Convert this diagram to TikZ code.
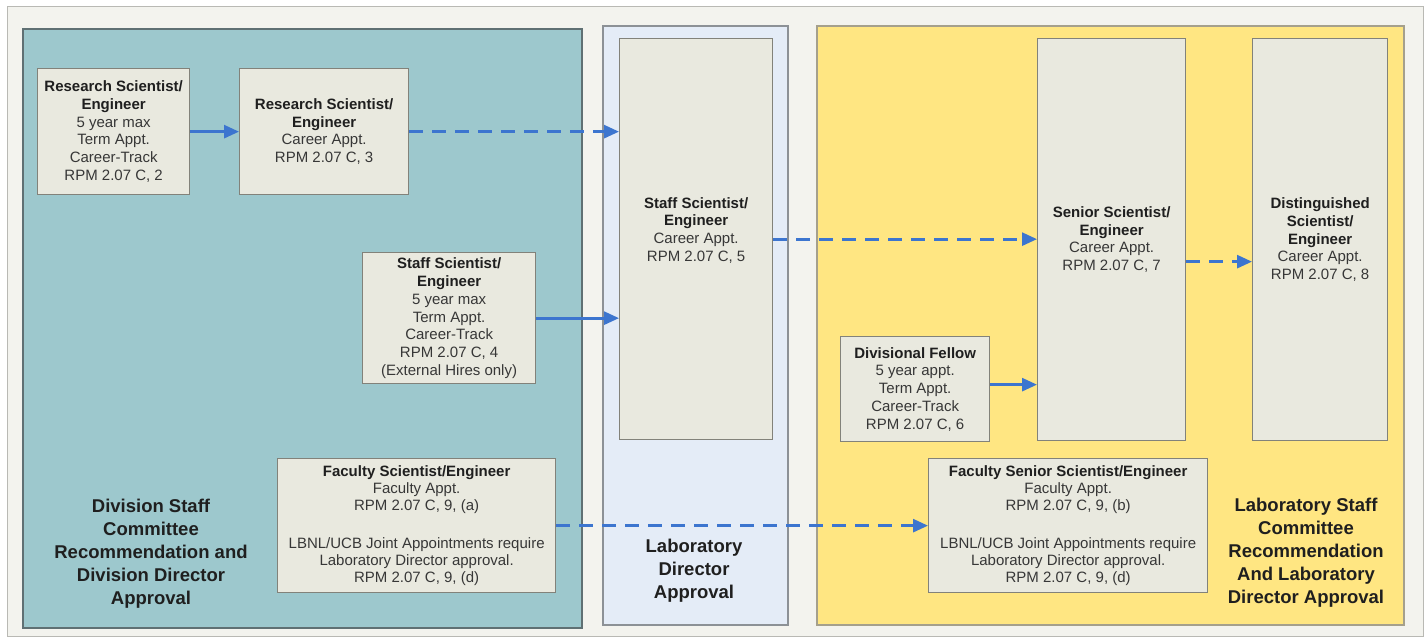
\documentclass[tikz,border=0pt]{standalone}
\usepackage{fontspec}
\setmainfont{Liberation Sans}
\usetikzlibrary{arrows.meta}
\definecolor{bg}{RGB}{243,243,238}
\definecolor{framec}{RGB}{185,185,180}
\definecolor{tealc}{RGB}{157,200,205}
\definecolor{tealb}{RGB}{95,112,115}
\definecolor{bluec}{RGB}{228,236,247}
\definecolor{blueb}{RGB}{140,145,150}
\definecolor{yelc}{RGB}{255,230,130}
\definecolor{yelb}{RGB}{165,160,140}
\definecolor{boxf}{RGB}{233,233,223}
\definecolor{boxb}{RGB}{130,130,122}
\definecolor{txt}{RGB}{55,55,55}
\definecolor{arr}{RGB}{60,117,207}
\newcommand\boxtitle[1]{{\bfseries\color{black!88}#1}}
\begin{document}
\begin{tikzpicture}[x=1pt,y=-1pt,
 box/.style={draw=boxb, fill=boxf, line width=1.3pt, align=center, inner sep=0pt, anchor=north west, text=txt, font=\fontsize{15}{17.7}\selectfont},
 facbox/.style={box, font=\fontsize{15}{16.8}\selectfont},
 boxtext/.style={align=center, inner sep=0pt, text=txt, font=\fontsize{15}{17.7}\selectfont},
 biglabel/.style={align=center, font=\fontsize{18.5}{23}\selectfont\bfseries, text=black!88},
 conn/.style={draw=arr, line width=2.7pt, -{Triangle[length=15pt,width=13pt]}},
 dashconn/.style={conn, dash pattern=on 14pt off 9pt}
]
\useasboundingbox (0,0) rectangle (1426,639);
\fill[white] (0,0) rectangle (1426,639);
\draw[fill=bg, draw=framec, line width=1pt] (7,7) rectangle (1423,636);
% panels
\draw[fill=tealc, draw=tealb, line width=1.4pt] (23,29) rectangle (582,628);
\draw[fill=bluec, draw=blueb, line width=1.3pt] (603,26) rectangle (788,625);
\draw[fill=yelc, draw=yelb, line width=1.3pt] (817,26) rectangle (1404,625);
% boxes
\node[box, minimum width=152pt, minimum height=126pt] (rs1) at (37,68)
 {\boxtitle{Research Scientist/}\\\boxtitle{Engineer}\\5 year max\\Term Appt.\\Career-Track\\RPM 2.07 C, 2};
\node[box, minimum width=169pt, minimum height=126pt] (rs2) at (239,68)
 {\boxtitle{Research Scientist/}\\\boxtitle{Engineer}\\Career Appt.\\RPM 2.07 C, 3};
\node[box, minimum width=153pt, minimum height=401pt,
 label={[boxtext, yshift=9pt]center:\boxtitle{Staff Scientist/}\\\boxtitle{Engineer}\\Career Appt.\\RPM 2.07 C, 5}] (staff5) at (619,38) {};
\node[box, minimum width=173pt, minimum height=131pt] (staff4) at (362,252)
 {\boxtitle{Staff Scientist/}\\\boxtitle{Engineer}\\5 year max\\Term Appt.\\Career-Track\\RPM 2.07 C, 4\\(External Hires only)};
\node[facbox, minimum width=278pt, minimum height=134pt] (fac) at (277,458)
 {\boxtitle{Faculty Scientist/Engineer}\\Faculty Appt.\\RPM 2.07 C, 9, (a)\\[22pt]LBNL/UCB Joint Appointments require\\Laboratory Director approval.\\RPM 2.07 C, 9, (d)};
\node[box, minimum width=148pt, minimum height=402pt] (senior) at (1037,38)
 {\boxtitle{Senior Scientist/}\\\boxtitle{Engineer}\\Career Appt.\\RPM 2.07 C, 7};
\node[box, minimum width=135pt, minimum height=402pt] (dist) at (1252,38)
 {\boxtitle{Distinguished}\\\boxtitle{Scientist/}\\\boxtitle{Engineer}\\Career Appt.\\RPM 2.07 C, 8};
\node[box, minimum width=149pt, minimum height=105pt] (divf) at (840,336)
 {\boxtitle{Divisional Fellow}\\5 year appt.\\Term Appt.\\Career-Track\\RPM 2.07 C, 6};
\node[facbox, minimum width=279pt, minimum height=134pt] (facsen) at (928,458)
 {\boxtitle{Faculty Senior Scientist/Engineer}\\Faculty Appt.\\RPM 2.07 C, 9, (b)\\[22pt]LBNL/UCB Joint Appointments require\\Laboratory Director approval.\\RPM 2.07 C, 9, (d)};
% panel labels
\node[biglabel] (divlabel) at (151,554) {Division Staff\\Committee\\Recommendation and\\Division Director\\Approval};
\node[biglabel] (ldlabel) at (694,571) {Laboratory\\Director\\Approval};
\node[biglabel] (lslabel) at (1306,553) {Laboratory Staff\\Committee\\Recommendation\\And Laboratory\\Director Approval};
% connectors
\draw[conn] (rs1) -- (rs2);
\draw[dashconn] (rs2.east) -- (rs2.east -| staff5.west);
\draw[conn] (staff4.east) -- (staff4.east -| staff5.west);
\draw[dashconn] (staff5.east) -- (staff5.east -| senior.west);
\draw[dashconn] ([yshift=-22pt]senior.east) -- ([yshift=-22pt]senior.east -| dist.west);
\draw[conn] ([yshift=4.5pt]divf.east) -- ([yshift=4.5pt]divf.east -| senior.west);
\draw[dashconn] (fac) -- (facsen);
\end{tikzpicture}
\end{document}
